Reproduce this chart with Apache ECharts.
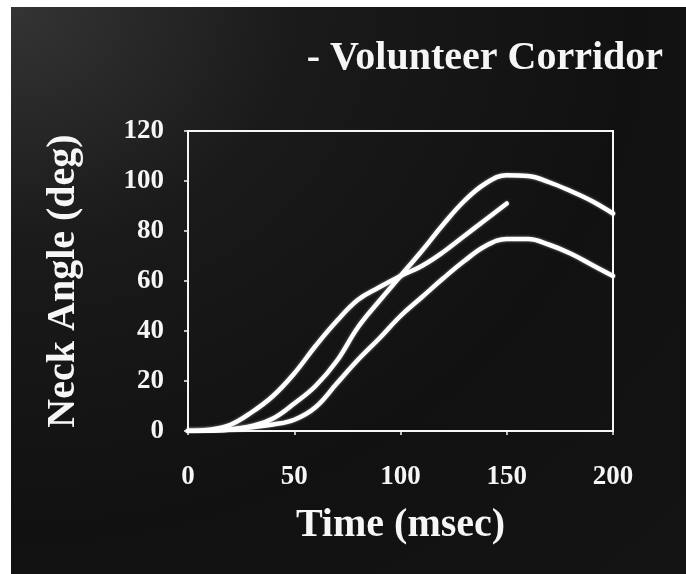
<!DOCTYPE html>
<html>
<head>
<meta charset="utf-8">
<title>Neck Angle vs Time</title>
<script src="https://cdn.jsdelivr.net/npm/echarts@6/dist/echarts.min.js"></script>
<style>
  html, body { margin: 0; padding: 0; background: #ffffff; }
  #chart {
    position: absolute; left: 11px; top: 7px; width: 675px; height: 567px;
    background: radial-gradient(ellipse at 0% 0%, #343434 0%, #1a1a1a 30%, #111111 65%, #141414 100%);
  }
</style>
</head>
<body>
<div id="chart"></div>
<script>
// Time axis (msec) and tick labels
const xTicks = [0, 50, 100, 150, 200];
const yTicks = [0, 20, 40, 60, 80, 100, 120];

// Upper corridor boundary
const upperTime  = [0, 10, 20, 30, 40, 50, 60, 70, 80, 90, 100, 110, 120, 130, 140, 150, 160, 170, 180, 190, 200];
const upperAngle = [0, 0.1, 0.6, 2, 5, 11, 18, 28, 41.5, 52, 62, 72, 82.5, 92, 99, 102.3, 102, 99.5, 96, 92, 87];

// Lower corridor boundary
const lowerTime  = [0, 10, 20, 30, 40, 50, 60, 70, 80, 90, 100, 110, 120, 130, 140, 150, 160, 170, 180, 190, 200];
const lowerAngle = [0, 0.2, 0.6, 1.5, 2.6, 4.5, 9.5, 19, 28.5, 37, 46, 53.5, 61, 68, 74, 76.8, 76.8, 74.5, 71, 66.5, 62];

// Volunteer response (ends at 150 msec)
const volTime  = [0, 10, 20, 30, 40, 50, 60, 70, 80, 90, 100, 110, 120, 130, 140, 150];
const volAngle = [0, 0.5, 2.5, 7.5, 14, 23, 34, 44, 52.5, 57.5, 62, 66, 71.5, 78, 84.5, 91];

const pairs = (xs, ys) => xs.map((x, i) => [x, ys[i]]);

const ink = '#f6f6f6';
const serif = '"Liberation Serif", "DejaVu Serif", serif';

const lineStyle = {
  color: '#ffffff', width: 4.5, cap: 'round', join: 'round',
  shadowBlur: 3, shadowColor: 'rgba(255,255,255,0.45)'
};

const chart = echarts.init(document.getElementById('chart'), null, { renderer: 'canvas' });
chart.setOption({
  backgroundColor: 'transparent',
  animation: false,
  title: {
    text: '- Volunteer Corridor',
    right: 18,
    top: 27,
    textStyle: { color: ink, fontFamily: serif, fontWeight: 'bold', fontSize: 40 }
  },
  grid: {
    left: 177, right: 73, top: 124, bottom: 143,
    show: true, borderColor: ink, borderWidth: 2, backgroundColor: 'transparent'
  },
  xAxis: {
    type: 'value', min: 0, max: 200, interval: 50,
    name: 'Time (msec)', nameLocation: 'middle', nameGap: 75,
    nameTextStyle: { color: ink, fontFamily: serif, fontWeight: 'bold', fontSize: 40 },
    axisLine: { show: true, lineStyle: { color: ink, width: 2 } },
    axisTick: { show: true, inside: false, length: 4, lineStyle: { color: ink, width: 1.5 } },
    axisLabel: {
      color: ink, fontFamily: serif, fontWeight: 'bold', fontSize: 27, margin: 33,
      formatter: v => (xTicks.includes(v) ? String(v) : '')
    },
    splitLine: { show: false }
  },
  yAxis: {
    type: 'value', min: 0, max: 120, interval: 20,
    name: 'Neck Angle (deg)', nameLocation: 'middle', nameGap: 104,
    nameTextStyle: { color: ink, fontFamily: serif, fontWeight: 'bold', fontSize: 40 },
    axisLine: { show: true, lineStyle: { color: ink, width: 2 } },
    axisTick: { show: true, inside: false, length: 4, lineStyle: { color: ink, width: 1.5 } },
    axisLabel: {
      color: ink, fontFamily: serif, fontWeight: 'bold', fontSize: 27, margin: 24,
      formatter: v => (yTicks.includes(v) ? String(v) : '')
    },
    splitLine: { show: false }
  },
  series: [
    { type: 'line', name: 'Upper', data: pairs(upperTime, upperAngle), showSymbol: false, smooth: 0.4, lineStyle },
    { type: 'line', name: 'Lower', data: pairs(lowerTime, lowerAngle), showSymbol: false, smooth: 0.4, lineStyle },
    { type: 'line', name: 'Volunteer', data: pairs(volTime, volAngle), showSymbol: false, smooth: 0.4, lineStyle }
  ]
});
</script>
</body>
</html>
